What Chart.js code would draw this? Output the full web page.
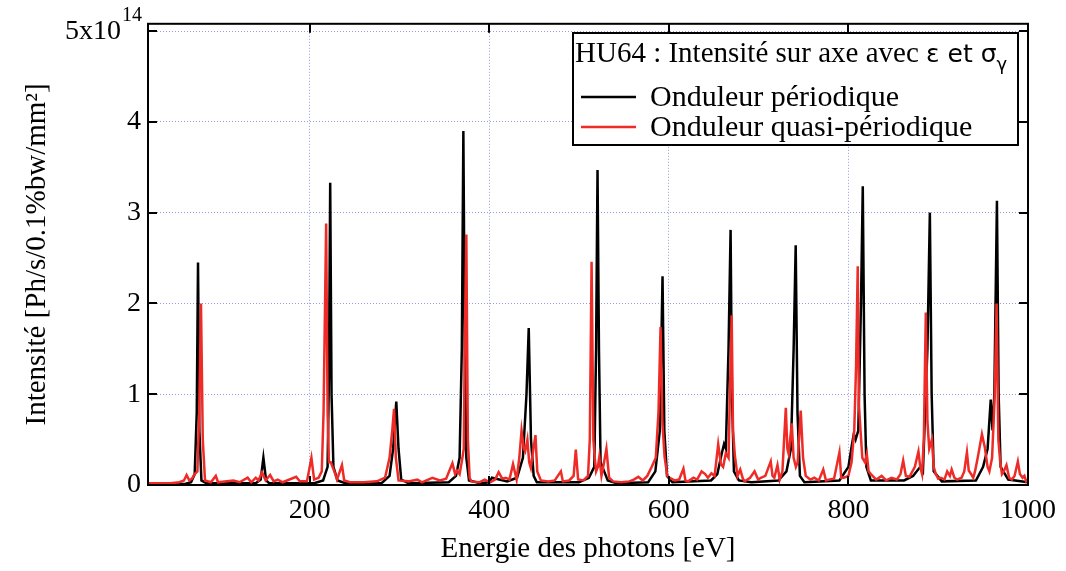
<!DOCTYPE html>
<html><head><meta charset="utf-8">
<script src="https://cdn.jsdelivr.net/npm/chart.js@4"></script>
<style>html,body{margin:0;padding:0;background:#fff;}</style>
</head><body>
<canvas id="c" width="1066" height="571"></canvas>
<script>
// ---- data (intensity in units of 1e14 Ph/s/0.1%bw/mm^2) ----
const xTickValues = [200, 400, 600, 800, 1000];
const yTickValues = [0, 1, 2, 3, 4, 5];
const seriesNames = ['Onduleur périodique', 'Onduleur quasi-périodique'];
const legendTitle = 'HU64 : Intensité sur axe avec ';

const energyPeriodic = [20,60,68,72,74.3,75.7,77.2,79.5,85,140,145.5,148.5,151.5,155,205,215,220,221.5,222.9,224.4,226.5,231,240,280,289,293,296.5,299,302,310,355,363,367,369.5,371.2,372.8,374.5,377.5,390,400,403,420,431,437.5,441.5,444,446.5,449.5,453,500,511,517,519,520.6,522.2,524,528,532,542,577,585,590,593,595,598,604,647,654,659,661.5,663.5,666.5,668.8,670.3,672.5,678,692,722,731,736,739,741.3,743.3,746,751,790,800,804,806,808,811,814,816,818,820,825,862,872,880,883,888,890.7,892.7,895,904,942,950,955,958.5,960.5,962.5,965.4,967.3,969.5,978,1000];
const intensityPeriodic = [0.01,0.01,0.03,0.12,0.8,2.45,0.6,0.05,0.02,0.02,0.06,0.30,0.05,0.02,0.02,0.05,0.2,1.2,3.33,1.0,0.2,0.05,0.02,0.02,0.1,0.4,0.92,0.4,0.06,0.02,0.03,0.1,0.3,1.5,3.9,1.5,0.3,0.05,0.02,0.03,0.08,0.04,0.08,0.3,1.0,1.73,0.5,0.1,0.03,0.03,0.08,0.2,1.5,3.47,1.5,0.25,0.15,0.05,0.02,0.03,0.15,0.6,2.3,0.6,0.1,0.03,0.05,0.12,0.35,0.45,0.4,1.5,2.81,1.0,0.15,0.05,0.03,0.05,0.15,0.4,1.5,2.64,0.8,0.1,0.03,0.05,0.2,0.45,0.56,0.5,0.6,2.0,3.29,1.0,0.2,0.05,0.05,0.1,0.2,0.15,1.5,3.0,1.0,0.15,0.04,0.05,0.2,0.4,0.94,0.6,1.0,3.13,1.0,0.2,0.06,0.03];

const energyQuasi = [20,45,55,60,63,66,69,72,75,77,79,81,83.5,90,95.5,98,115,122,131,135,140,143,147,151,156,160,164.5,170,185,189,197,202,205,210,213.5,215.5,218.4,220,221.5,223.5,227.5,230.5,236,238.5,245,260,275,284,289,292,294,296,299,310,320,325,336.7,345,352,359,362,364,367,369.5,371.7,372.7,374.5,376.2,378.2,380,389,395,401,406.5,410.5,414.5,418.5,422.5,426.5,430.5,433.5,436,438.5,440,442.5,444.5,446.3,448.5,451.5,453.5,457.5,466,473,479.8,482,489,494,496.4,499,505,510,512,514,516,517.6,519,521,522.6,525,527,530.5,533.5,538,547,556,561,566,571,576,581,585.5,588.5,590.8,592.8,595.3,598.3,601,606.5,611.5,616.3,618.5,621.5,627.5,631.5,636.5,640.5,643.5,647.5,651,655,658,660.5,663.5,666.5,668,670,671.5,673.5,676.5,679.5,682.5,684.5,690.5,695.5,699.5,702.5,707.5,713.5,715.5,717.5,721,723.5,726.5,730.3,732,733.5,736.9,739,741.5,743.5,746.9,749.5,752.5,757.5,762,767,772,775,779,784,790,792,795,800,803.5,806.5,808.5,810.4,811.6,813.5,815.5,818.5,820.5,822.5,825,831,837,842,848,854,858,861,864,868,874,878,880,882,884,886.2,888,890,893,895,897,900,903,907,910,913,915,918,921,926,929,932,934,936,939,941,944,948.7,952,955,957,960,963,965,967,969,971,973,976,979,982,985,988.7,991,994,996,998,1000];
const intensityQuasi = [0.02,0.02,0.03,0.05,0.11,0.05,0.07,0.12,0.15,0.8,2.0,0.5,0.05,0.03,0.1,0.03,0.05,0.03,0.08,0.03,0.08,0.05,0.14,0.05,0.11,0.04,0.06,0.03,0.09,0.04,0.04,0.30,0.06,0.08,0.15,0.8,2.88,0.8,0.25,0.25,0.15,0.06,0.22,0.05,0.03,0.03,0.04,0.08,0.3,0.6,0.84,0.3,0.05,0.04,0.06,0.03,0.08,0.05,0.07,0.24,0.12,0.16,0.12,0.26,0.4,1.5,2.76,0.5,0.08,0.04,0.03,0.06,0.03,0.06,0.14,0.07,0.08,0.06,0.23,0.06,0.3,0.6,0.4,0.37,0.5,0.25,0.19,0.35,0.55,0.15,0.05,0.04,0.05,0.15,0.04,0.05,0.1,0.39,0.06,0.05,0.1,0.5,2.46,0.5,0.29,0.15,0.2,0.31,0.1,0.2,0.4,0.08,0.04,0.03,0.04,0.06,0.09,0.05,0.1,0.2,0.3,0.8,1.74,0.7,0.31,0.1,0.08,0.05,0.06,0.18,0.05,0.04,0.08,0.06,0.15,0.12,0.08,0.13,0.1,0.45,0.23,0.2,0.35,0.3,1.0,1.87,0.6,0.33,0.1,0.17,0.07,0.04,0.08,0.15,0.06,0.08,0.1,0.26,0.1,0.08,0.22,0.06,0.15,0.85,0.4,0.34,0.68,0.3,0.2,0.25,0.82,0.3,0.1,0.06,0.08,0.05,0.17,0.05,0.06,0.07,0.36,0.08,0.08,0.1,0.25,0.6,1.3,2.41,0.9,0.6,0.3,0.25,0.34,0.15,0.12,0.06,0.1,0.05,0.08,0.06,0.12,0.27,0.1,0.09,0.2,0.37,0.2,0.12,0.5,1.9,0.7,0.4,0.5,0.2,0.13,0.07,0.08,0.06,0.15,0.1,0.17,0.08,0.06,0.08,0.15,0.36,0.16,0.13,0.08,0.15,0.3,0.56,0.41,0.2,0.15,0.3,1.0,2.0,0.5,0.26,0.12,0.15,0.22,0.08,0.06,0.1,0.26,0.12,0.08,0.1,0.04,0.06];

const colorPeriodic = '#000000';
const colorQuasi = '#ee2b26';

const toPoints = (xs, ys) => xs.map((x, i) => ({x: x, y: ys[i]}));
const SERIF = '"Liberation Serif", "Times New Roman", serif';
const SANS = '"DejaVu Sans", sans-serif';

const decor = {
  id: 'decor',
  afterDraw(chart) {
    const ctx = chart.ctx;
    const a = chart.chartArea;
    const xs = chart.scales.x, ys = chart.scales.y;
    ctx.save();
    ctx.strokeStyle = '#000'; ctx.lineWidth = 2;
    ctx.strokeRect(a.left, a.top, a.right - a.left, a.bottom - a.top);
    const tl = 9;
    ctx.beginPath();
    xTickValues.forEach(v => {
      const px = Math.round(xs.getPixelForValue(v));
      ctx.moveTo(px, a.bottom); ctx.lineTo(px, a.bottom - tl);
      ctx.moveTo(px, a.top); ctx.lineTo(px, a.top + tl);
    });
    yTickValues.forEach(v => {
      const py = Math.round(ys.getPixelForValue(v));
      ctx.moveTo(a.left, py); ctx.lineTo(a.left + tl, py);
      ctx.moveTo(a.right, py); ctx.lineTo(a.right - tl, py);
    });
    ctx.stroke();
    // top y label 5x10^14
    const y5 = ys.getPixelForValue(5);
    ctx.fillStyle = '#000';
    ctx.textBaseline = 'middle';
    ctx.textAlign = 'right';
    ctx.font = '28px ' + SERIF;
    ctx.fillText('5x10', 121, y5 + 1);
    ctx.textAlign = 'left';
    ctx.font = '20px ' + SERIF;
    ctx.fillText('14', 122, y5 - 15);
    // legend box
    const bx = 573, by = 33, bw = 445, bh = 112;
    ctx.fillStyle = '#fff';
    ctx.fillRect(bx, by, bw, bh);
    ctx.lineWidth = 2; ctx.strokeStyle = '#000';
    ctx.strokeRect(bx, by, bw, bh);
    ctx.fillStyle = '#000';
    ctx.textBaseline = 'alphabetic';
    ctx.textAlign = 'left';
    ctx.font = '29px ' + SERIF;
    let tx = 575;
    ctx.fillText(legendTitle, tx, 62);
    tx += ctx.measureText(legendTitle).width;
    ctx.font = '25px ' + SANS;
    ctx.fillText('ε et σ', tx, 62);
    tx += ctx.measureText('ε et σ').width;
    ctx.font = '18px ' + SANS;
    ctx.fillText('γ', tx, 70);
    const entries = [[colorPeriodic, 97], [colorQuasi, 127]];
    entries.forEach((e, i) => {
      ctx.strokeStyle = e[0]; ctx.lineWidth = 2.5;
      ctx.beginPath(); ctx.moveTo(581, e[1]); ctx.lineTo(636, e[1]); ctx.stroke();
      ctx.fillStyle = '#000';
      ctx.font = '30px ' + SERIF;
      ctx.fillText(seriesNames[i], 650, e[1] + 9);
    });
    ctx.restore();
  }
};

new Chart(document.getElementById('c'), {
  type: 'line',
  data: {
    datasets: [
      {label: seriesNames[0], data: toPoints(energyPeriodic, intensityPeriodic), borderColor: colorPeriodic, borderWidth: 2.5, pointRadius: 0, tension: 0, order: 1},
      {label: seriesNames[1], data: toPoints(energyQuasi, intensityQuasi), borderColor: colorQuasi, borderWidth: 2.5, pointRadius: 0, tension: 0, order: 0}
    ]
  },
  options: {
    responsive: false,
    animation: false,
    devicePixelRatio: 1,
    layout: {padding: {top: 22, right: 38, left: 0, bottom: 0}},
    plugins: {legend: {display: false}, tooltip: {enabled: false}},
    scales: {
      x: {
        type: 'linear', min: 20, max: 1000,
        afterBuildTicks: s => { s.ticks = xTickValues.map(v => ({value: v})); },
        afterFit: s => { s.height = 86; },
        grid: {color: 'rgba(90,100,200,0.65)', lineWidth: 1, drawTicks: false},
        border: {display: false, dash: [1, 2]},
        ticks: {color: '#000', font: {family: SERIF, size: 28}, padding: 9, maxRotation: 0, callback: v => String(v)},
        title: {display: true, text: 'Energie des photons [eV]', color: '#000', font: {family: SERIF, size: 29}, padding: {top: 3}}
      },
      y: {
        type: 'linear', min: 0, max: 5.08,
        afterBuildTicks: s => { s.ticks = yTickValues.map(v => ({value: v})); },
        afterFit: s => { s.width = 148; },
        grid: {color: 'rgba(90,100,200,0.65)', lineWidth: 1, drawTicks: false},
        border: {display: false, dash: [1, 2]},
        ticks: {color: '#000', font: {family: SERIF, size: 28}, padding: 7, callback: v => (v === 5 ? '' : String(v))},
        title: {display: true, text: 'Intensité [Ph/s/0.1%bw/mm²]', color: '#000', font: {family: SERIF, size: 29}, padding: {top: 20, bottom: 0}}
      }
    }
  },
  plugins: [decor]
});
</script>
</body></html>
